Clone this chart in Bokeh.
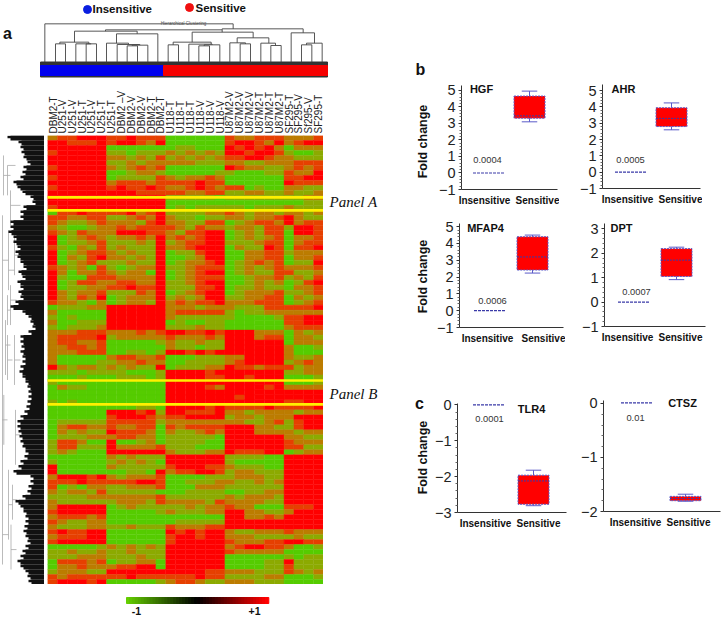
from math import pi
from bokeh.plotting import figure
from bokeh.models import ColumnDataSource, FixedTicker, Range1d
from bokeh.embed import file_html
from bokeh.resources import INLINE
from bokeh.core.properties import value

# ---------- data ----------
SAMPLES = ["DBM2-T","U251-V","U251-V","U251-T","U251-V","U251-T","U251-T","DBM2 \u2013V","DBM2-V","DBM2-V",
           "DBM2-T","DBM2-T","U118-T","U118-T","U118-T","U118-V","U118-V","U118-V","U87M2-V","U87M2-V",
           "U87M2-V","U87M2-T","U87M2-T","U87M2-T","SF295-T","SF295-V","Sf295-V","SF295-T"]
GROUPS = ["Insensitive", "Sensitive"]

# heat levels per row; 0 = green ... 4 = red. Spaces only mark sample blocks.
HEAT_ROWS = [
"2 33444 33433 3 000000 322333 2 223",
"4 43334 34432 4 000000 344324 2 344",
"4 44444 00000 0 011000 434342 0 222",
"3 44444 11011 1 212121 443443 1 001",
"4 44444 22121 3 121212 334432 2 111",
"4 44444 11212 2 222111 221122 2 333",
"3 44444 21232 3 000000 432211 2 323",
"4 44444 00122 1 000001 100011 3 224",
"3 44444 01111 3 212232 000000 3 344",
"4 44444 23332 3 333433 000000 4 333",
"3 44444 34334 3 223432 330100 2 211",
"4 44444 44433 3 332233 112211 2 112",
"4 44444 44444 4 111110 111111 1 122",
"4 44444 44444 4 000000 000000 0 011",
"3 44444 44444 4 010111 110111 2 111",
"0 33433 33423 4 111122 321221 2 212",
"3 32233 11232 4 211011 221223 4 211",
"3 21123 22213 4 221133 012332 4 233",
"2 10012 23233 3 321322 122133 1 443",
"3 21322 24443 3 213344 012133 0 443",
"4 01232 12232 4 232344 012123 0 223",
"4 01123 11121 4 123344 111233 0 233",
"3 10213 12111 4 223444 021143 0 334",
"4 01233 21211 4 011344 002233 1 222",
"4 02134 22121 4 001244 002233 0 223",
"4 01231 11211 4 012234 012323 0 114",
"3 21203 10122 4 112333 012123 2 223",
"4 20223 21220 4 012344 012113 3 112",
"4 10033 32222 4 012333 001223 1 213",
"4 01332 23322 4 112344 001212 0 134",
"4 01122 33433 4 111334 011211 0 223",
"4 21223 11132 4 012344 012223 1 123",
"4 21324 01222 4 121244 112233 0 212",
"3 22102 01221 4 232334 222333 0 123",
"0 11122 44444 4 222122 211133 3 334",
"2 00000 44444 4 233333 101122 2 222",
"1 01000 44444 4 211111 100001 3 344",
"2 00111 44444 4 010011 000000 3 344",
"1 01112 44444 4 111211 000000 2 333",
"2 22333 22232 3 443343 444222 0 212",
"2 33334 12222 2 322232 444233 0 221",
"2 33223 00000 1 211211 444444 0 222",
"2 23323 00000 0 211011 444444 2 001",
"2 22333 00110 1 443434 444444 2 000",
"2 00000 23322 3 000111 224444 2 112",
"2 00001 12232 2 001111 234444 1 232",
"4 21221 21211 4 011122 433233 3 122",
"1 11011 11000 1 444434 444444 1 122",
"0 00100 01110 1 444433 443444 0 001",
"1 00000 00000 0 444444 444444 0 001",
"0 21100 00000 0 444432 444434 2 222",
"0 00000 00000 0 444444 444444 4 444",
"0 00000 00000 0 444444 434444 4 444",
"1 01000 00000 0 444444 444444 3 344",
"0 00000 00011 0 444434 333343 3 334",
"0 00000 44434 1 443334 221222 2 122",
"0 00000 34443 2 334444 122122 2 444",
"0 11111 33333 1 222222 221123 1 344",
"0 23322 32233 0 323333 444221 1 344",
"0 21211 43332 0 211232 444222 2 122",
"0 11122 23322 0 111110 444444 2 211",
"1 33200 40012 0 111100 444444 3 222",
"1 33111 42222 3 111000 444444 3 311",
"1 21000 44444 4 211122 433344 0 122",
"0 00000 21211 1 444444 111100 4 444",
"1 00000 12121 0 444444 100000 4 444",
"4 00000 21111 1 344433 211100 4 444",
"4 00000 00110 4 233443 122111 4 444",
"2 44434 21222 3 000011 122211 4 444",
"3 33433 33344 3 001112 211212 4 444",
"3 01022 11222 3 000222 111111 4 444",
"2 12213 11111 0 001111 001122 4 444",
"1 11122 22222 3 111111 212221 4 444",
"2 11111 12221 3 222213 222211 4 444",
"2 44444 01211 1 112122 322000 3 334",
"3 44444 00000 1 211122 442211 2 444",
"2 33323 00000 0 000000 442232 4 444",
"3 21122 00000 0 011111 444444 4 444",
"2 11122 11211 1 322233 444444 4 444",
"3 43344 00000 0 434344 211222 3 222",
"2 33344 00000 0 344344 222111 1 211",
"3 44444 00000 0 344444 322233 4 433",
"0 00001 21212 1 444444 234433 2 001",
"1 12112 11211 1 444444 322222 0 000",
"1 11222 11121 1 444444 000000 1 011",
"0 33323 01122 0 444444 000011 4 111",
"0 22322 23344 0 444444 000011 3 111",
"1 22211 44444 4 444433 222111 3 212",
"3 23333 33433 3 333433 111122 0 001",
"3 44434 00000 1 233211 222111 0 000",
]
HEAT_COLORS = ["#55cc00", "#8caa00", "#bc7c00", "#e64000", "#ff0000"]
YELLOW_ROWS = [12.4, 15.0, 49.1, 53.9]

# row dendrogram: where the dense black part starts on each row
ROW_TREE_EDGE = [7,18,20,21,23,27,23,22,20,13,17,22,30,32,23,20,20,10,10,8,13,13,17,15,17,20,23,18,22,17,
                 20,18,20,15,10,22,28,30,32,28,20,20,21,20,22,22,20,19,22,25,27,28,28,27,26,24,20,17,17,18,
                 19,20,22,25,24,20,18,13,30,30,28,27,22,15,20,23,25,25,24,23,25,27,25,22,20,17,20,25,27,28]
ROW_TREE_V = [(3,4,12),(7,6,12),(10,11,18),(2,16,86),(8,19,31),(3.3,52,62),(5,37,48),(7,40,49),(10,30,38),
              (8,67,81),(12,70,77),(10.5,78,87),(7,32,38),(14,20,28),(15,55,66),(14,40,50)]
ROW_TREE_H = [(3,10,8),(7,15,6),(10,20,14),(2,8,25),(8,14,27),(3.3,7,57),(5,10,42),(7,12,45),(10,16,33),
              (8,12,74),(12,17,73),(10.5,16,83),(7,10,35),(14,20,24),(15,20,60),(14,20,45),(2,8,80),(1.7,3.3,57)]

# column dendrogram: (left, right, top, left_bottom, right_bottom)
COL_TREE = [
(133,698,70,185,85),(665,908,85,88,97),(315,665,88,92,95),(222,410,92,125,100),(178,265,125,130,130),
(165,195,130,185,185),(226,272,130,185,130),(257,288,130,185,185),(348,472,100,128,185),(318,384,128,185,132),
(350,418,132,185,134),(395,442,134,136,185),(380,411,136,185,185),(575,758,95,125,112),(518,632,125,133,131),
(503,534,133,185,185),(565,635,131,185,133),(611,658,133,136,185),(595,627,136,185,185),(710,805,112,127,128),
(688,735,127,185,130),(719,750,130,185,185),(781,825,128,185,135),(811,842,135,185,185),(872,942,97,185,128),
(918,965,128,133,185),(903,934,133,185,185),
]

# box stats: low whisker, q1, median, q3, high whisker
GENES = ["HGF","AHR","MFAP4","DPT","TLR4","CTSZ"]
INSENSITIVE_LEVEL = [0.0, 0.0, 0.0, 0.0, 0.0, 0.01]
P_VALUES = ["0.0004","0.0005","0.0006","0.0007","0.0001","0.01"]
WHISK_LOW  = [3.1, 2.6, 2.24, 0.92, -2.81, -1.81]
Q1         = [3.32, 2.8, 2.42, 1.05, -2.77, -1.80]
MEDIAN     = [3.46, 3.3, 3.2, 1.72, -2.12, -1.76]
Q3         = [4.66, 3.95, 4.4, 2.19, -1.96, -1.72]
WHISK_HIGH = [4.96, 4.25, 4.5, 2.25, -1.82, -1.68]
Y_TICKS = [[-1,0,1,2,3,4,5],[-1,0,1,2,3,4,5],[-1,0,1,2,3,4,5],[-1,0,1,2,3],[-3,-2,-1,0],[-2,-1,0]]
Y_LIMITS = [(-1,5.3),(-1,5.38),(-1,5.19),(-1,3.22),(-3,0.04),(-2,0.055)]

# ---------- layout (pixels) ----------
PANELS = [
 dict(f=(461,85,557,189),  c=(488,529), l=(484,538), g=(481,88),  p=(487,159)),
 dict(f=(602,84,700,188),  c=(630,671), l=(627,680), g=(623,88),  p=(630,159)),
 dict(f=(459,223,563,327), c=(489,532), l=(487,543), g=(485,227), p=(492,300)),
 dict(f=(604,223,705,326), c=(633,676), l=(627,680), g=(621,227), p=(636,291)),
 dict(f=(457,403,566,512), c=(488,533), l=(485,538), g=(531,408), p=(489,418)),
 dict(f=(603,400,720,511), c=(636,685), l=(635,688), g=(682,402), p=(635,417)),
]
HX0, HY0, HX1, HY1 = 47.5, 135, 323, 584
roots = []

def place(p, left, top):
    p.styles = {"position": "absolute", "left": f"{left}px", "top": f"{top}px"}
    roots.append(p)

def bare(w, h, xr, yr):
    p = figure(width=w, height=h, x_range=xr, y_range=yr, output_backend="svg", toolbar_location=None,
               min_border_left=0, min_border_right=0, min_border_top=0, min_border_bottom=0)
    p.xgrid.visible = False; p.ygrid.visible = False
    p.outline_line_color = None
    p.background_fill_alpha = 0; p.border_fill_alpha = 0
    p.xaxis.visible = False; p.yaxis.visible = False
    return p

# ---------- page-level background with all free texts ----------
bg = bare(722, 617, Range1d(0, 722), Range1d(617, 0))
bg.background_fill_color = "white"; bg.background_fill_alpha = 1

def txt(x, y, s, size, bold=False, color="#111111", font="Liberation Sans", angle=0, style=None, align="center"):
    fs = style or ("bold" if bold else "normal")
    bg.text([x], [y], text=[s], text_font=value(font), text_font_size=f"{size}px", text_font_style=fs,
            text_color=color, text_align=align, text_baseline="middle", angle=angle)

bg.scatter([87], [9], size=8, color="#0a1ee0")
bg.scatter([189], [7], size=8, color="#f01010")
txt(92, 8.5, "Insensitive", 11.5, True, align="left")
txt(195, 7.5, "Sensitive", 11.5, True, align="left")
txt(7, 33, "a", 16, True); txt(420, 69, "b", 16, True); txt(419, 403, "c", 16, True)
txt(183, 22.7, "Hierarchical Clustering", 4.5, color="#555555")
txt(353, 201, "Panel A", 15, font="Liberation Serif", style="italic")
txt(353, 393, "Panel B", 15, font="Liberation Serif", style="italic")
for y in (141, 276, 457):
    txt(422.7, y, "Fold change", 12.5, True, angle=pi/2)
# sample-class bar
bg.quad(left=[40], right=[327], top=[61.5], bottom=[76.5], color="#333333")
bg.quad(left=[40], right=[163], top=[65], bottom=[75], color="#0000ee")
bg.quad(left=[163], right=[327], top=[65], bottom=[75], color="#f50000")
# colour key
CB_X0, CB_X1, CB_N = 126, 268, 48
for i in range(CB_N):
    t = i / (CB_N - 1)
    col = (int(100*(1-2*t)), int(205*(1-2*t)), 0) if t < .5 else (int(255*(2*t-1)), 0, 0)
    bg.quad(left=[CB_X0 + (CB_X1-CB_X0)*i/CB_N], right=[CB_X0 + (CB_X1-CB_X0)*(i+1)/CB_N + .3],
            top=[597], bottom=[603], color="#%02x%02x%02x" % col)
txt(136, 610, "-1", 10.5, True); txt(254, 610, "+1", 10.5, True)
for k, d in enumerate(PANELS):
    txt(d["g"][0], d["g"][1], GENES[k], 11, True)
    txt(d["p"][0], d["p"][1], P_VALUES[k], 9.3, color="#333333")
place(bg, 0, 0)

# ---------- column dendrogram ----------
ct = bare(290, 48, Range1d(120, 990), Range1d(189, 45))
x0s, x1s, y0s, y1s = [], [], [], []
for xl, xr, top, bl, br in COL_TREE:
    x0s += [xl, xl, xr]; x1s += [xr, xl, xr]; y0s += [top, top, top]; y1s += [top, bl, br]
ct.segment(x0s, y0s, x1s, y1s, line_color="#444444", line_width=0.9)
place(ct, 40, 15)

# ---------- row dendrogram ----------
rt = bare(44, int(HY1-HY0), Range1d(0, 44), Range1d(90, 0))
rt.segment([v[0] for v in ROW_TREE_V], [v[1] for v in ROW_TREE_V], [v[0] for v in ROW_TREE_V], [v[2] for v in ROW_TREE_V],
           line_color="#aaaaaa", line_width=0.8)
rt.segment([h[0] for h in ROW_TREE_H], [h[2] for h in ROW_TREE_H], [h[1] for h in ROW_TREE_H], [h[2] for h in ROW_TREE_H],
           line_color="#aaaaaa", line_width=0.8)
rows = list(range(90))
rt.quad(left=ROW_TREE_EDGE, right=[43.5]*90, top=[r+.05 for r in rows], bottom=[r+.55 for r in rows], color="#111111", line_width=0)
rt.quad(left=[e+3 for e in ROW_TREE_EDGE], right=[43.5]*90, top=rows, bottom=[r+1 for r in rows], color="#111111", line_width=0)
place(rt, 0, int(HY0))

# ---------- heat map ----------
xs, ys, cs = [], [], []
for r, row in enumerate(HEAT_ROWS):
    for c, ch in enumerate(row.replace(" ", "")):
        xs.append(c); ys.append(r); cs.append(HEAT_COLORS[int(ch)])
src = ColumnDataSource(dict(left=xs, right=[x+1 for x in xs], top=ys, bottom=[y+1 for y in ys], color=cs))
AX_TOP = 70
hm = figure(width=int(HX1-HX0)+1, height=int(HY1-HY0)+AX_TOP, x_range=Range1d(0, 28), y_range=Range1d(90, 0),
            x_axis_location="above", output_backend="svg", toolbar_location=None,
            min_border_left=0, min_border_right=0, min_border_top=AX_TOP, min_border_bottom=0)
hm.grid.visible = False; hm.outline_line_color = None
hm.background_fill_alpha = 0; hm.border_fill_alpha = 0
hm.yaxis.visible = False
hm.quad("left", "right", "top", "bottom", source=src, fill_color="color", line_color="color", line_width=0.4)
hm.segment([-0.2]*4, YELLOW_ROWS, [28]*4, YELLOW_ROWS, line_color="#fff000", line_width=2.6)
ax = hm.xaxis[0]
ax.ticker = FixedTicker(ticks=[i+.5 for i in range(28)])
ax.major_label_overrides = {i+.5: s for i, s in enumerate(SAMPLES)}
ax.major_label_orientation = "vertical"
ax.major_label_text_font = "Liberation Sans"; ax.major_label_text_font_size = "10px"
ax.major_label_text_color = "#222222"; ax.major_label_standoff = 2
ax.major_tick_out = 0; ax.major_tick_in = 0
ax.axis_line_color = None; ax.major_tick_line_color = None; ax.minor_tick_line_color = None
place(hm, 47, int(HY0)-AX_TOP)

# ---------- box panels ----------
BLUE = "#5a5ac8"; DARK = "#3a3aa8"
for k, d in enumerate(PANELS):
    x0, y0, x1, y1 = d["f"]; c1, c2 = d["c"]
    sep = c2 - c1
    ML, MR, MT, MB = 45, 2, 12, 26
    xr = Range1d(1-(c1-x0)/sep, 2+(x1-c2)/sep)
    p = figure(width=x1-x0+ML+MR, height=y1-y0+MT+MB, x_range=xr, y_range=Range1d(*Y_LIMITS[k]),
               output_backend="svg", toolbar_location=None,
               min_border_left=ML, min_border_right=MR, min_border_top=MT, min_border_bottom=MB)
    p.grid.visible = False; p.outline_line_color = None
    p.background_fill_alpha = 0; p.border_fill_alpha = 0
    hw = 15.5 / sep
    p.segment([2, 2], [Q3[k], Q1[k]], [2, 2], [WHISK_HIGH[k], WHISK_LOW[k]], line_color=BLUE, line_width=1)
    p.segment([2-hw/2]*2, [WHISK_HIGH[k], WHISK_LOW[k]], [2+hw/2]*2, [WHISK_HIGH[k], WHISK_LOW[k]], line_color=BLUE, line_width=1)
    p.vbar([2], width=2*hw, bottom=[Q1[k]], top=[Q3[k]], fill_color="#ff0000", line_color=BLUE, line_width=1, line_dash="2 1")
    p.segment([2-hw], [MEDIAN[k]], [2+hw], [MEDIAN[k]], line_color=DARK, line_width=1, line_dash="2 1")
    p.segment([1-hw], [INSENSITIVE_LEVEL[k]], [1+hw], [INSENSITIVE_LEVEL[k]], line_color=DARK, line_width=1.2, line_dash="3 1")
    xa, ya = p.xaxis[0], p.yaxis[0]
    tk = [1+(d["l"][0]-c1)/sep, 2+(d["l"][1]-c2)/sep]
    xa.ticker = FixedTicker(ticks=tk)
    xa.major_label_overrides = {tk[0]: GROUPS[0], tk[1]: GROUPS[1]}
    xa.major_label_text_font = "Liberation Sans"; xa.major_label_text_font_size = "10px"
    xa.major_label_text_font_style = "bold"; xa.major_label_text_color = "#111111"
    xa.major_tick_line_color = None; xa.minor_tick_line_color = None
    xa.major_tick_out = 0; xa.major_tick_in = 0; xa.major_label_standoff = 5
    xa.axis_line_color = "#333333"
    yt = Y_TICKS[k]
    ya.ticker = FixedTicker(ticks=yt, minor_ticks=[t+i/5 for t in yt[:-1] for i in range(1, 5)])
    ya.major_label_text_font = "Liberation Sans"; ya.major_label_text_font_size = "14.5px"
    ya.major_label_text_color = "#222222"; ya.major_label_standoff = 3
    ya.axis_line_color = "#333333"; ya.major_tick_line_color = "#333333"; ya.minor_tick_line_color = "#666666"
    ya.major_tick_in = 0; ya.major_tick_out = 3; ya.minor_tick_in = 0; ya.minor_tick_out = 2
    place(p, x0-ML, y0-MT)

open("out.html", "w").write(file_html(roots, INLINE))
